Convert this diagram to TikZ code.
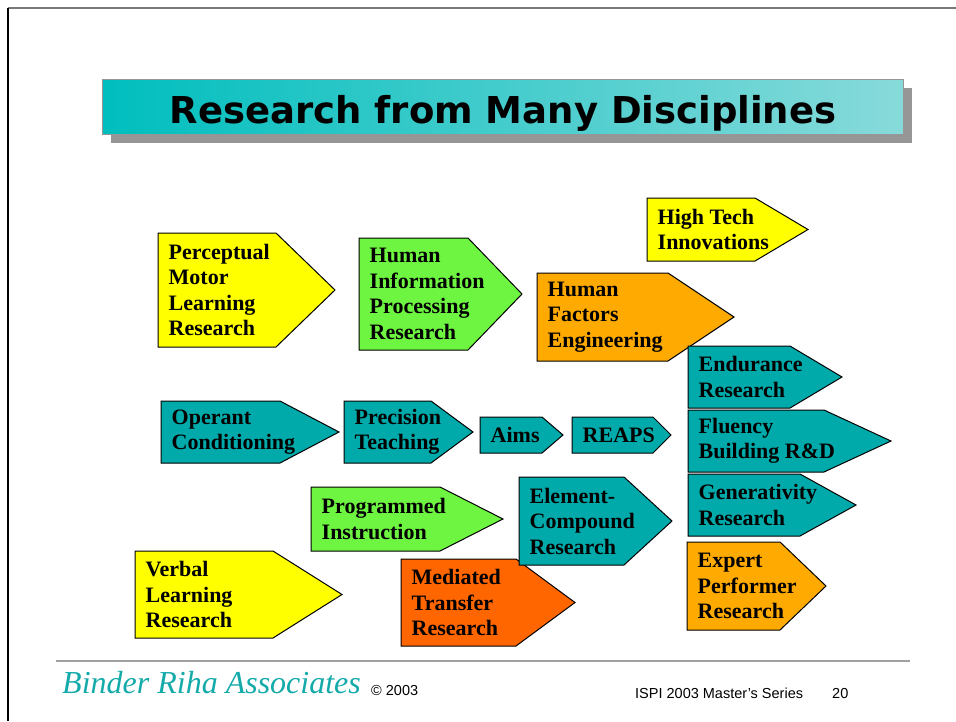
\documentclass[tikz,border=0pt]{standalone}
\usepackage{fontspec}
\setmainfont{Liberation Serif}
\newfontfamily\titlefont{DejaVu Sans}
\newfontfamily\footfont{Liberation Sans}
\definecolor{boxyellow}{RGB}{255,255,0}
\definecolor{boxgreen}{RGB}{110,245,65}
\definecolor{boxorange}{RGB}{255,170,0}
\definecolor{boxdark}{RGB}{255,102,0}
\definecolor{boxteal}{RGB}{0,170,170}
\definecolor{titleA}{RGB}{0,190,190}
\definecolor{titleB}{RGB}{136,218,218}
\definecolor{shadowgray}{RGB}{150,150,150}
\definecolor{footteal}{RGB}{20,170,170}
% #1 name, #2 fill, #3 left, #4 top, #5 body right, #6 tip x, #7 bottom, #8 text
\newcommand\abox[8]{%
  \filldraw[boxline, fill=#2] (#3,#4) -- (#5,#4) -- (#6,{(#4+#7)/2}) -- (#5,#7) -- (#3,#7) -- cycle;
  \node[boxtext] (#1) at ({#3+10.5},{(#4+#7)/2}) {#8};
}
\begin{document}
\begin{tikzpicture}[x=1pt,y=-1pt,
  boxline/.style={draw=black,line width=1pt,line join=miter},
  boxtext/.style={font=\fontsize{22}{25.5}\selectfont\bfseries, align=left, inner sep=0pt, anchor=west},
  foottext/.style={font=\footfont\fontsize{14.5}{16}\selectfont, inner sep=0pt, anchor=base west}]
\useasboundingbox (0,0) rectangle (956,721);
\fill[white] (0,0) rectangle (956,721);
% frame
\draw[line width=1.5pt, draw={rgb,255:red,120;green,120;blue,120}] (8,8) -- (956,8);
\draw[line width=1.5pt, black] (8,8) -- (8,721);
% title
\fill[shadowgray] (111,88) rectangle (912,143);
\shadedraw[left color=titleA, right color=titleB, draw={rgb,255:red,150;green,150;blue,150}, line width=1pt] (102,79) rectangle (903,134);
\node[font=\titlefont\bfseries\fontsize{37}{40}\selectfont, anchor=base, inner sep=0pt] (title) at (503,123) {Research from Many Disciplines};
% boxes
\abox{perc}{boxyellow}{158}{233}{276}{335}{347}{Perceptual\\Motor\\Learning\\Research}
\abox{hip}{boxgreen}{359}{238}{468}{522}{350}{Human\\Information\\Processing\\Research}
\abox{htech}{boxyellow}{647}{198}{755}{808}{261}{High Tech\\Innovations}
\abox{hfe}{boxorange}{537}{273}{668}{734}{361}{Human\\Factors\\Engineering}
\abox{endur}{boxteal}{688}{346}{790}{842}{408}{Endurance\\Research}
\abox{fluency}{boxteal}{688}{410}{824}{891}{472}{Fluency\\Building R\&D}
\abox{gener}{boxteal}{688}{474}{800}{856}{536}{Generativity\\Research}
\abox{expert}{boxorange}{687}{542}{780}{826}{630}{Expert\\Performer\\Research}
\abox{operant}{boxteal}{161}{401}{280}{339}{463}{Operant\\Conditioning}
\abox{precision}{boxteal}{344}{401}{431}{473}{463}{Precision\\Teaching}
\abox{aims}{boxteal}{480}{417}{542}{563}{453}{Aims}
\abox{reaps}{boxteal}{572}{417}{653}{671}{453}{REAPS}
\abox{prog}{boxgreen}{311}{487}{440}{503}{551}{Programmed\\Instruction}
\abox{mediated}{boxdark}{401}{559}{516}{575}{646}{Mediated\\Transfer\\Research}
\abox{element}{boxteal}{519}{477}{624}{672}{565}{Element-\\Compound\\Research}
\abox{verbal}{boxyellow}{135}{551}{273}{342}{638}{Verbal\\Learning\\Research}
% footer
\draw[line width=1.5pt, draw={rgb,255:red,160;green,160;blue,160}] (56,661) -- (910,661);
\node[font=\itshape\fontsize{32}{34}\selectfont, text=footteal, inner sep=0pt, anchor=base west] (brand) at (62,693) {Binder Riha Associates};
\node[foottext] (copy) at (371,695) {© 2003};
\node[foottext] (series) at (635,698) {ISPI 2003 Master’s Series};
\node[foottext] (page) at (832,698) {20};
\end{tikzpicture}
\end{document}
